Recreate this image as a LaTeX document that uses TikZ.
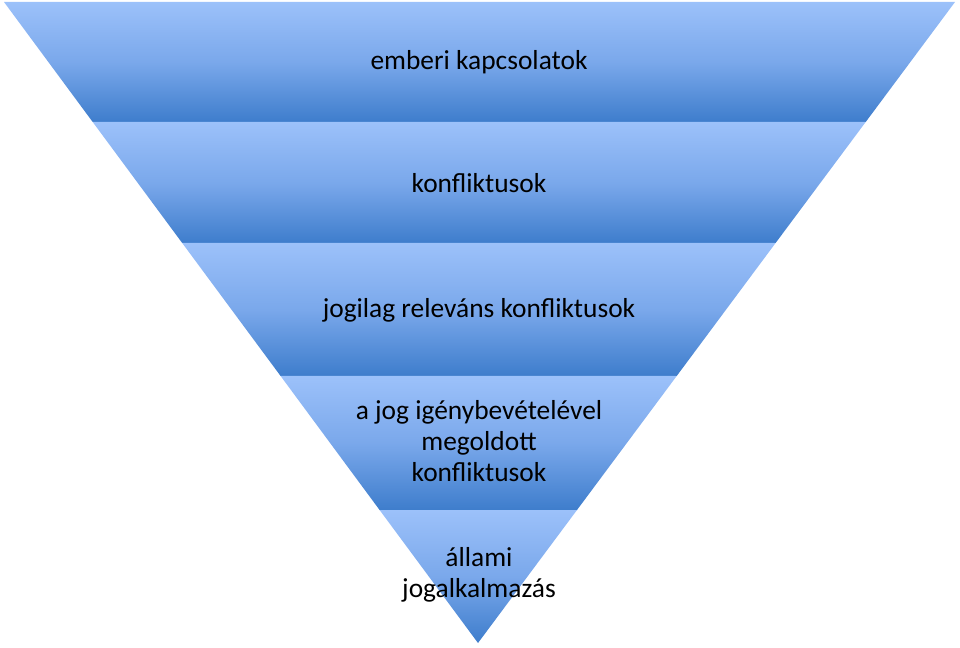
\documentclass[tikz,border=0pt]{standalone}
\usepackage{fontspec}
\setmainfont{Carlito}
\definecolor{bandlight}{RGB}{156,193,250}
\definecolor{bandmid}{RGB}{122,168,235}
\definecolor{banddark}{RGB}{62,125,204}

\begin{document}
\begin{tikzpicture}[x=0.025cm,y=-0.025cm]
\tikzstyle{band}=[top color=bandlight,bottom color=banddark,middle color=bandmid]
\tikzstyle{label}=[align=center,text=black,font=\fontsize{19.5}{22.3}\selectfont]
\useasboundingbox (0,0) rectangle (960,648);
% the five bands of the funnel
\shade[band] (4,2) -- (955,2) -- (865.7,122) -- (92.7,122) -- cycle;
\shade[band] (92.7,122) -- (865.7,122) -- (775.6,243) -- (182.2,243) -- cycle;
\shade[band] (182.2,243) -- (775.6,243) -- (676.7,376) -- (280.6,376) -- cycle;
\shade[band] (280.6,376) -- (676.7,376) -- (577,510) -- (379.6,510) -- cycle;
\shade[band] (379.6,510) -- (577,510) -- (478,643) -- cycle;
% labels
\node [label] (emberi) at (479,62) {emberi kapcsolatok};
\node [label] (konfl) at (479,183) {konfliktusok};
\node [label] (jogilag) at (479,310) {jogilag releváns konfliktusok};
\node [label] (megoldott) at (479,441) {a jog igénybevételével\\megoldott\\konfliktusok};
\node [label] (allami) at (479,575) {állami\\jogalkalmazás};
\end{tikzpicture}
\end{document}
